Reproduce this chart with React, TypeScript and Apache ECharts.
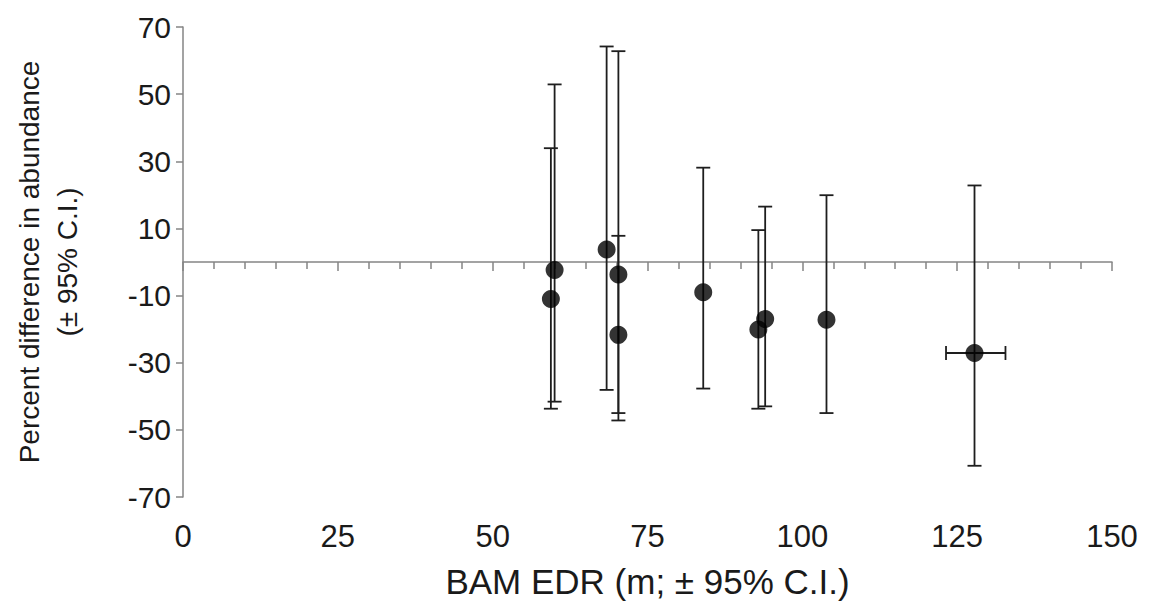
import React, { useEffect, useRef } from "react";
import * as echarts from "echarts";

// Data
const edr = [59.4, 60.0, 68.4, 70.3, 70.3, 84.0, 92.9, 94.0, 103.9, 127.8];
const pctDiff = [-11.0, -2.4, 3.7, -3.7, -21.7, -9.0, -20.1, -17.0, -17.2, -27.1];
const ciLow = [-43.7, -41.6, -38.1, -45.0, -47.2, -37.7, -43.7, -43.0, -45.0, -60.7];
const ciHigh = [33.9, 52.9, 64.2, 62.8, 7.8, 28.1, 9.5, 16.5, 19.9, 22.8];
const edrLow: (number | null)[] = [null, null, null, null, null, null, null, null, null, 123.2];
const edrHigh: (number | null)[] = [null, null, null, null, null, null, null, null, null, 132.8];

const xTitle = "BAM EDR (m; ± 95% C.I.)";
const yTitle = "Percent difference in abundance\n(± 95% C.I.)";

export default function App() {
  const ref = useRef<HTMLDivElement>(null);
  useEffect(() => {
    if (!ref.current) return;
    const chart = echarts.init(ref.current, null, { renderer: "svg" });
    const errData = edr.map((x, i) => [x, pctDiff[i], ciLow[i], ciHigh[i], edrLow[i] ?? NaN, edrHigh[i] ?? NaN]);
    const pts = edr.map((x, i) => [x, pctDiff[i]]);
    const barColor = "#1e1e1e";
    const axisColor = "#858585";
    const font = "Liberation Sans, Arial, sans-serif";
    const cap = 7;
    const option: any = {
      animation: false,
      backgroundColor: "#ffffff",
      grid: { left: 183, right: 37, top: 27, bottom: 115 },
      xAxis: [
        {
          type: "value",
          position: "top",
          min: 0,
          max: 150,
          interval: 25,
          axisLine: { show: true, onZero: true, lineStyle: { color: axisColor, width: 1.5 } },
          axisTick: { show: true, inside: true, length: 9, lineStyle: { color: axisColor, width: 1.5 } },
          minorTick: { show: true, splitNumber: 5, length: 7, lineStyle: { color: axisColor, width: 1.5 } },
          axisLabel: { show: false },
          splitLine: { show: false },
        },
        {
          type: "value",
          position: "bottom",
          min: 0,
          max: 150,
          interval: 25,
          axisLine: { show: false, onZero: false },
          axisTick: { show: false },
          axisLabel: { show: true, fontSize: 31, color: "#1a1a1a", fontFamily: font, margin: 24 },
          splitLine: { show: false },
          name: xTitle,
          nameLocation: "middle",
          nameGap: 67,
          nameTextStyle: { fontSize: 35, color: "#1a1a1a", fontFamily: font },
        },
      ],
      yAxis: {
        type: "value",
        min: -70,
        max: 70,
        interval: 20,
        axisLine: { show: true, onZero: false, lineStyle: { color: axisColor, width: 1.5 } },
        axisTick: { show: true, inside: false, length: 7, lineStyle: { color: axisColor, width: 1.5 } },
        axisLabel: { fontSize: 30, color: "#1a1a1a", fontFamily: font, margin: 12 },
        splitLine: { show: false },
      },
      graphic: [
        {
          type: "text",
          x: 48,
          y: 262,
          rotation: Math.PI / 2,
          style: {
            text: yTitle,
            fontSize: 28,
            lineHeight: 38,
            fill: "#1a1a1a",
            fontFamily: font,
            align: "center",
            verticalAlign: "middle",
          },
        },
      ],
      series: [
        {
          type: "custom",
          xAxisIndex: 0,
          yAxisIndex: 0,
          data: errData,
          z: 2,
          renderItem: (params: any, api: any) => {
            const x = api.value(0);
            const y = api.value(1);
            const lo = api.value(2);
            const hi = api.value(3);
            const xl = api.value(4);
            const xh = api.value(5);
            const pLo = api.coord([x, lo]);
            const pHi = api.coord([x, hi]);
            const style = { stroke: barColor, lineWidth: 1.8 };
            const children: any[] = [
              { type: "line", shape: { x1: pLo[0], y1: pLo[1], x2: pHi[0], y2: pHi[1] }, style },
              { type: "line", shape: { x1: pLo[0] - cap, y1: pLo[1], x2: pLo[0] + cap, y2: pLo[1] }, style },
              { type: "line", shape: { x1: pHi[0] - cap, y1: pHi[1], x2: pHi[0] + cap, y2: pHi[1] }, style },
            ];
            if (!isNaN(xl) && !isNaN(xh)) {
              const a = api.coord([xl, y]);
              const b = api.coord([xh, y]);
              children.push(
                { type: "line", shape: { x1: a[0], y1: a[1], x2: b[0], y2: b[1] }, style },
                { type: "line", shape: { x1: a[0], y1: a[1] - cap, x2: a[0], y2: a[1] + cap }, style },
                { type: "line", shape: { x1: b[0], y1: b[1] - cap, x2: b[0], y2: b[1] + cap }, style }
              );
            }
            return { type: "group", children };
          },
        },
        {
          type: "scatter",
          xAxisIndex: 0,
          yAxisIndex: 0,
          data: pts,
          symbol: "circle",
          symbolSize: 18,
          itemStyle: { color: "#000000" },
          z: 3,
        },
      ],
    };
    chart.setOption(option);
    return () => chart.dispose();
  }, []);
  return (
    <div
      ref={ref}
      style={{ position: "absolute", left: 0, top: 0, width: 1149, height: 612, background: "#fff" }}
    />
  );
}
